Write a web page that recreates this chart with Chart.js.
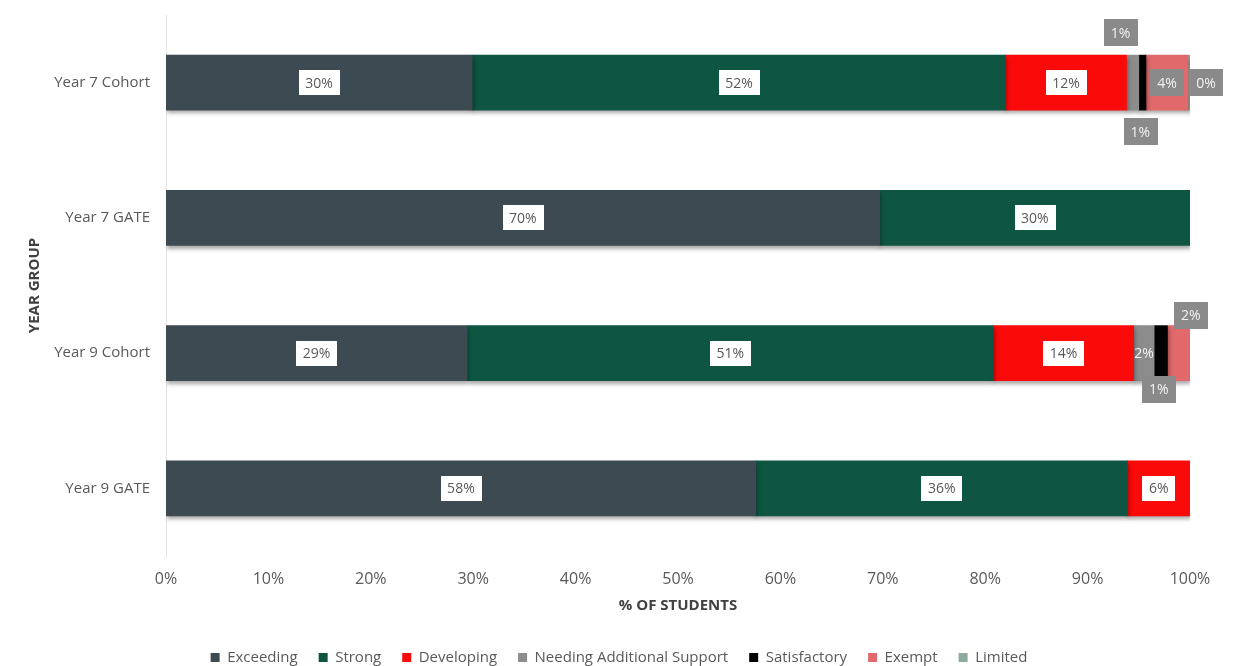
<!DOCTYPE html>
<html>
<head>
<meta charset="utf-8">
<title>Achievement by Year Group</title>
<script src="https://cdn.jsdelivr.net/npm/chart.js@4.4.1/dist/chart.umd.min.js"></script>
<style>
  html, body { margin: 0; padding: 0; background: #ffffff; }
  #wrap { width: 1235px; height: 666px; position: relative; }
</style>
</head>
<body>
<div id="wrap"><canvas id="chart" width="1235" height="666"></canvas></div>
<script>
// Year groups (categories on the vertical axis)
const categories = ['Year 7 Cohort', 'Year 7 GATE', 'Year 9 Cohort', 'Year 9 GATE'];

// Percentage of students in each achievement band, per year group
const exceeding      = [29.9, 69.7, 29.4, 57.6];
const strong         = [52.1, 30.3, 51.4, 36.3];
const developing     = [11.8, null, 13.7, 6.1];
const needingSupport = [1.2, null, 2.0, null];
const satisfactory   = [0.7, null, 1.3, null];
const exempt         = [4.1, null, 2.2, null];
const limited        = [0.2, null, null, null];

// Percentage axis ticks
const xTicks = [0, 10, 20, 30, 40, 50, 60, 70, 80, 90, 100];

const bandNames  = ['Exceeding', 'Strong', 'Developing', 'Needing Additional Support', 'Satisfactory', 'Exempt', 'Limited'];
const bandValues = [exceeding, strong, developing, needingSupport, satisfactory, exempt, limited];
const bandColors = ['#3E4A52', '#0E5641', '#FB0A0A', '#8C8C8C', '#000000', '#E2696B', '#8DAA9B'];

// Callout styling for the narrow segments: grey tag offset from the segment centre
const calloutOffsets = {
  '3-0': { dx: -12, dy: -50 },
  '4-0': { dx: -2,  dy: 49 },
  '5-0': { dx: 0,   dy: 0 },
  '6-0': { dx: 17,  dy: 0 },
  '3-2': { dx: 0,   dy: 0, plain: true },
  '4-2': { dx: -2,  dy: 36 },
  '5-2': { dx: 12,  dy: -38 }
};

const TEXT_GREY = '#595959';
const LABEL_FONT = '14px "Open Sans", sans-serif';
const SANS = '"Open Sans", sans-serif';

// Soft drop shadow beneath the bars
const barShadow = {
  id: 'barShadow',
  beforeDatasetsDraw(chart) {
    const ctx = chart.ctx;
    ctx.save();
    ctx.shadowColor = 'rgba(0,0,0,0.35)';
    ctx.shadowBlur = 4;
    ctx.shadowOffsetX = 1;
    ctx.shadowOffsetY = 3;
  },
  afterDatasetsDraw(chart) {
    chart.ctx.restore();
  }
};

// Legend sits a little right of the canvas centre
const legendShift = {
  id: 'legendShift',
  afterLayout(chart) {
    if (chart.legend) {
      chart.legend.left += 24;
      chart.legend.right += 24;
    }
  }
};

// Percentage tags on every segment
const segmentLabels = {
  id: 'segmentLabels',
  afterDatasetsDraw(chart) {
    const ctx = chart.ctx;
    ctx.save();
    ctx.font = LABEL_FONT;
    ctx.textAlign = 'center';
    ctx.textBaseline = 'middle';
    chart.data.datasets.forEach((ds, di) => {
      const meta = chart.getDatasetMeta(di);
      if (meta.hidden) return;
      meta.data.forEach((bar, ci) => {
        const v = ds.data[ci];
        if (v === null || v === undefined) return;
        const text = Math.round(v) + '%';
        const cx = (bar.x + bar.base) / 2;
        const cy = bar.y;
        const key = di + '-' + ci;
        const tw = ctx.measureText(text).width;
        if (calloutOffsets[key]) {
          const off = calloutOffsets[key];
          const w = tw + 14, h = 27;
          const x = cx + off.dx, y = cy + off.dy;
          if (!off.plain) {
            ctx.fillStyle = '#8A8A8A';
            ctx.fillRect(Math.round(x - w / 2), Math.round(y - h / 2), Math.round(w), h);
          }
          ctx.fillStyle = '#F2F2F2';
          ctx.fillText(text, x, y + 1);
        } else {
          const w = tw + 13, h = 25;
          ctx.fillStyle = '#FFFFFF';
          ctx.fillRect(Math.round(cx - w / 2), Math.round(cy - h / 2), Math.round(w), h);
          ctx.fillStyle = TEXT_GREY;
          ctx.fillText(text, cx, cy + 1);
        }
      });
    });
    ctx.restore();
  }
};

const datasets = bandNames.map((name, i) => ({
  label: name,
  data: bandValues[i],
  backgroundColor: bandColors[i],
  borderWidth: 0,
  barThickness: 55
}));

new Chart(document.getElementById('chart'), {
  type: 'bar',
  data: { labels: categories, datasets },
  options: {
    indexAxis: 'y',
    responsive: false,
    animation: false,
    layout: { padding: { top: 15, right: 45, bottom: -9, left: 0 } },
    scales: {
      x: {
        stacked: true,
        min: 0,
        max: 100,
        afterBuildTicks(scale) { scale.ticks = xTicks.map(v => ({ value: v })); },
        afterFit(scale) { scale.height = 73; },
        grid: { display: false, drawTicks: false },
        border: { display: false },
        ticks: {
          padding: 14,
          color: TEXT_GREY,
          font: { family: SANS, size: 16 },
          callback: v => v + '%'
        },
        title: {
          display: true,
          text: '% OF STUDENTS',
          color: '#404040',
          font: { family: SANS, size: 15, weight: '700' },
          padding: 14
        }
      },
      y: {
        stacked: true,
        afterFit(scale) {
          scale.width = 166;
          scale.paddingTop = 0;
          scale.paddingBottom = 0;
        },
        grid: { display: false, drawTicks: false },
        border: { display: true, color: '#E3E3E3', width: 1 },
        ticks: {
          padding: 16,
          color: TEXT_GREY,
          font: { family: SANS, size: 15 }
        },
        title: {
          display: true,
          text: 'YEAR GROUP',
          color: '#404040',
          font: { family: SANS, size: 15, weight: '700' },
          padding: 26
        }
      }
    },
    plugins: {
      legend: {
        position: 'bottom',
        labels: {
          boxWidth: 9,
          boxHeight: 9,
          padding: 21,
          color: TEXT_GREY,
          font: { family: SANS, size: 15 }
        }
      },
      tooltip: { enabled: false }
    }
  },
  plugins: [barShadow, legendShift, segmentLabels]
});
</script>
</body>
</html>
